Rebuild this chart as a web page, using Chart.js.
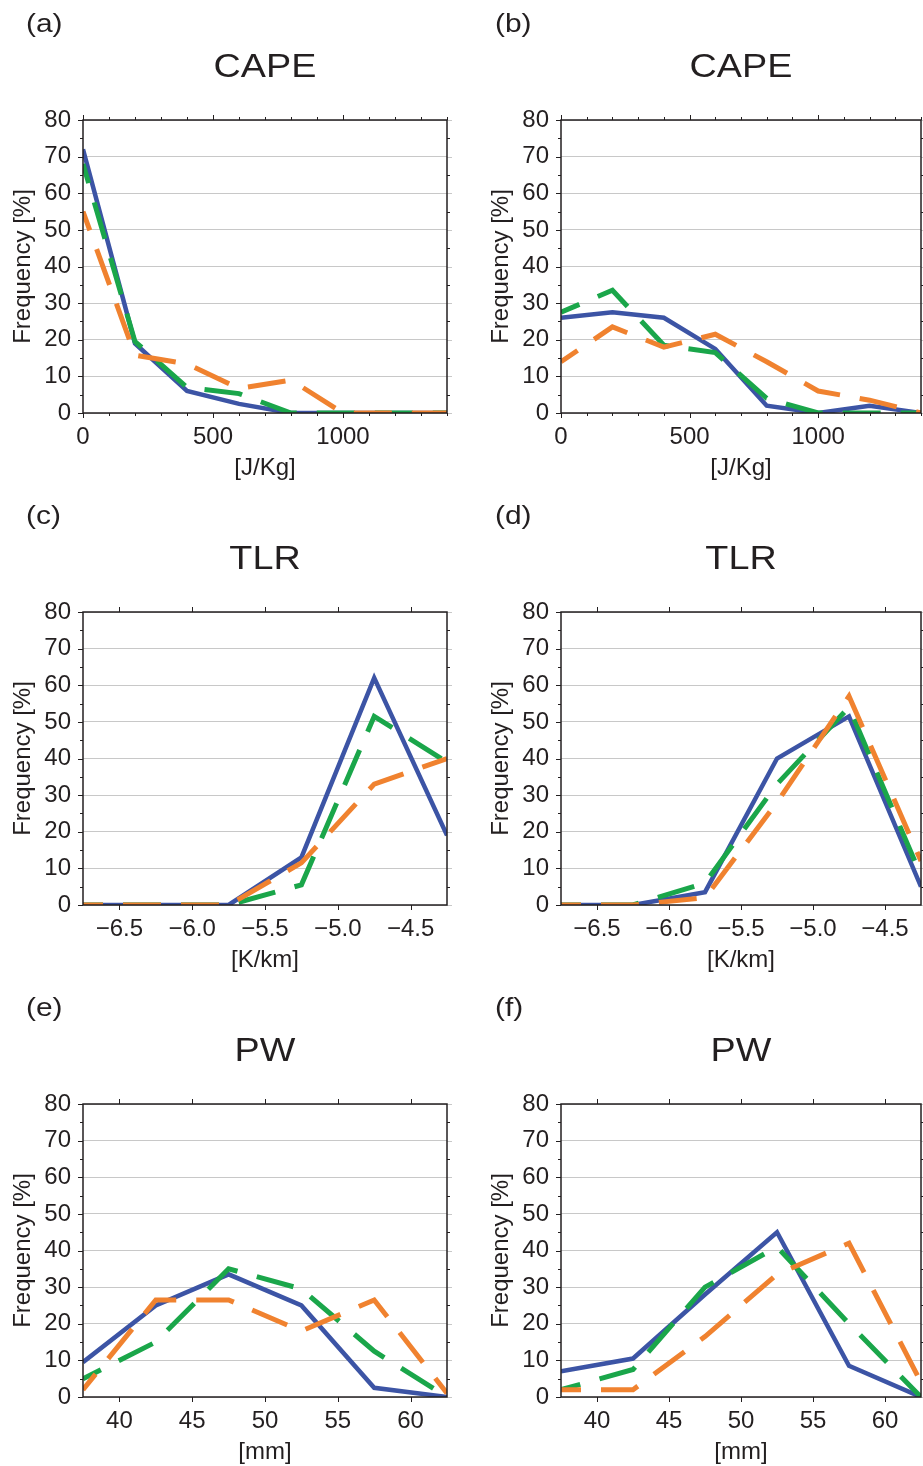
<!DOCTYPE html>
<html>
<head>
<meta charset="utf-8">
<script src="https://cdn.jsdelivr.net/npm/chart.js@4.4.0/dist/chart.umd.min.js"></script>
<style>
  body { margin: 0; width: 923px; height: 1466px; overflow: hidden; background: #fff;
         font-family: "Liberation Sans", Arial, sans-serif; color: #231f20; }
  .panel { position: absolute; height: 492px; }
  .panel canvas { position: absolute; left: 0; top: 0; }
  .lab { position: absolute; font-size: 26px; line-height: 26px; white-space: nowrap;
         transform: scaleX(1.15); transform-origin: left center; }
  .ttl { position: absolute; font-size: 34px; line-height: 34px; text-align: center; white-space: nowrap;
         transform: scaleX(1.11); }
</style>
</head>
<body>
<script>
// x positions of the bins
const capeX = [0, 200, 400, 600, 800, 1000, 1200, 1400];
const tlrX = [-6.75, -6.25, -5.75, -5.25, -4.75, -4.25];
const pwX = [37.5, 42.5, 47.5, 52.5, 57.5, 62.5];

// tick labels
const capeTicks = [0, 500, 1000];
const tlrTicks = [-6.5, -6.0, -5.5, -5.0, -4.5];
const pwTicks = [40, 45, 50, 55, 60];
const yTickVals = [0, 10, 20, 30, 40, 50, 60, 70, 80];

// (a) CAPE
const aBlue = [72, 19, 6, 2.5, 0, 0, 0, 0];
const aGreen = [68, 19.5, 7, 5.3, 0, 0, 0, 0];
const aOrange = [55, 15.8, 13.4, 6.7, 9, 0, 0, 0];
// (b) CAPE
const bBlue = [26, 27.5, 26, 17.5, 2, 0, 2, 0];
const bGreen = [27.5, 33.5, 18.5, 16.5, 4, 0, 0, 0];
const bOrange = [14, 23.5, 18, 21.5, 14, 6, 3.5, 0];
// (c) TLR
const cBlue = [0, 0, 0, 13, 62, 19];
const cGreen = [0, 0, 0, 5.5, 51.5, 39];
const cOrange = [0, 0, 0, 11.5, 33, 40];
// (d) TLR
const dBlue = [0, 0, 3.5, 40, 51.5, 5];
const dGreen = [0, 0, 6, 33, 54, 8];
const dOrange = [0, 0, 2, 28, 57, 12];
// (e) PW
const eBlue = [9.5, 25, 33.5, 25, 2.5, 0];
const eGreen = [5, 15, 35, 29.5, 12.5, 0];
const eOrange = [2, 26.5, 26.5, 18, 26.5, 1];
// (f) PW
const fBlue = [7, 10.5, 28, 45, 8.5, 0];
const fGreen = [2, 7.5, 30, 41, 20, 0];
const fOrange = [2, 2, 16.5, 33.5, 42, 4];

const yTitle = 'Frequency [%]';

const panels = [
  { tag: '(a)', title: 'CAPE', unit: '[J/Kg]', x: capeX, blue: aBlue, green: aGreen, orange: aOrange, row: 0, col: 0 },
  { tag: '(b)', title: 'CAPE', unit: '[J/Kg]', x: capeX, blue: bBlue, green: bGreen, orange: bOrange, row: 0, col: 1 },
  { tag: '(c)', title: 'TLR', unit: '[K/km]', x: tlrX, blue: cBlue, green: cGreen, orange: cOrange, row: 1, col: 0 },
  { tag: '(d)', title: 'TLR', unit: '[K/km]', x: tlrX, blue: dBlue, green: dGreen, orange: dOrange, row: 1, col: 1 },
  { tag: '(e)', title: 'PW', unit: '[mm]', x: pwX, blue: eBlue, green: eGreen, orange: eOrange, row: 2, col: 0 },
  { tag: '(f)', title: 'PW', unit: '[mm]', x: pwX, blue: fBlue, green: fGreen, orange: fOrange, row: 2, col: 1 }
];

// axis setup per variable
const axisFor = {
  CAPE: { min: 0, max: 1400, ticks: capeTicks, step: 500, minor: 100, fmt: v => String(v) },
  TLR: { min: -6.75, max: -4.25, ticks: tlrTicks, step: 0.5, minor: 0.5, fmt: v => v.toFixed(1).replace('-', '\u2212') },
  PW: { min: 37.5, max: 62.5, ticks: pwTicks, step: 5, minor: 5, fmt: v => String(v) }
};

const ink = '#231f20';
const tickFont = { family: '"Liberation Sans", Arial, sans-serif', size: 24, lineHeight: 1.2 };

// box, outer tick marks and grid stubs past the right edge
const frame = {
  id: 'frame',
  afterDraw(chart, args, opts) {
    const { ctx, chartArea: a, scales: { x, y } } = chart;
    ctx.save();
    ctx.lineWidth = 1;
    const n = Math.round((y.max - y.min) / 5);
    for (let i = 0; i <= n; i++) {
      const v = y.min + i * 5;
      const py = Math.round(y.getPixelForValue(v)) + 0.5;
      const major = v % 10 === 0;
      ctx.strokeStyle = ink;
      ctx.beginPath();
      ctx.moveTo(a.left - (major ? 5 : 3), py);
      ctx.lineTo(a.left, py);
      ctx.stroke();
      ctx.strokeStyle = major ? '#c8c8c8' : ink;
      ctx.beginPath();
      ctx.moveTo(a.right, py);
      ctx.lineTo(a.right + (major ? 5 : 3), py);
      ctx.stroke();
    }
    const start = Math.ceil(x.min / opts.minor - 1e-9) * opts.minor;
    const m = Math.floor((x.max - start) / opts.minor + 1e-9);
    ctx.strokeStyle = ink;
    for (let i = 0; i <= m; i++) {
      const v = start + i * opts.minor;
      const px = Math.round(x.getPixelForValue(v)) + 0.5;
      const major = Math.abs(v / opts.step - Math.round(v / opts.step)) < 1e-6;
      const len = major ? 5 : 3;
      ctx.beginPath();
      ctx.moveTo(px, a.top - len);
      ctx.lineTo(px, a.top);
      ctx.moveTo(px, a.bottom);
      ctx.lineTo(px, a.bottom + len);
      ctx.stroke();
    }
    ctx.lineWidth = 1.5;
    ctx.strokeStyle = ink;
    ctx.strokeRect(a.left, a.top, a.right - a.left, a.bottom - a.top);
    ctx.restore();
  }
};

function series(xs, ys) {
  return xs.map((v, i) => ({ x: v, y: ys[i] }));
}

panels.forEach(p => {
  const left = p.col === 0 ? 0 : 478;
  const width = p.col === 0 ? 461 : 445;
  const plotW = p.col === 0 ? 364 : 360;
  const top = p.row * 492;
  const ax = axisFor[p.title];

  const div = document.createElement('div');
  div.className = 'panel';
  div.style.left = left + 'px';
  div.style.top = top + 'px';
  div.style.width = width + 'px';
  document.body.appendChild(div);

  const canvas = document.createElement('canvas');
  canvas.width = width;
  canvas.height = 492;
  div.appendChild(canvas);

  const tag = document.createElement('div');
  tag.className = 'lab';
  tag.textContent = p.tag;
  tag.style.left = (p.col === 0 ? 26 : 17) + 'px';
  tag.style.top = '10px';
  div.appendChild(tag);

  const ttl = document.createElement('div');
  ttl.className = 'ttl';
  ttl.textContent = p.title;
  ttl.style.left = '83px';
  ttl.style.width = plotW + 'px';
  ttl.style.top = '48px';
  div.appendChild(ttl);

  new Chart(canvas, {
    type: 'line',
    data: {
      datasets: [
        { data: series(p.x, p.blue), borderColor: '#3c54a5', borderWidth: 4.5, order: 3 },
        { data: series(p.x, p.green), borderColor: '#1aa64a', borderWidth: 5, borderDash: [38, 20], borderDashOffset: 18, order: 2 },
        { data: series(p.x, p.orange), borderColor: '#f0822f', borderWidth: 5, borderDash: [38, 20], borderDashOffset: 18, order: 1 }
      ]
    },
    options: {
      responsive: false,
      animation: false,
      elements: { point: { radius: 0 }, line: { tension: 0, borderCapStyle: 'butt' } },
      layout: { padding: { top: 120, right: width - 83 - plotW, left: 0, bottom: 0 } },
      plugins: {
        legend: { display: false },
        tooltip: { enabled: false },
        frame: { step: ax.step, minor: ax.minor }
      },
      scales: {
        x: {
          type: 'linear',
          min: ax.min,
          max: ax.max,
          afterBuildTicks: s => { s.ticks = ax.ticks.map(v => ({ value: v })); },
          afterFit: s => { s.height = 79; s.paddingLeft = 0; s.paddingRight = 0; },
          grid: { display: false, drawTicks: false },
          border: { display: false },
          ticks: {
            autoSkip: false,
            maxRotation: 0,
            padding: 10,
            color: ink,
            font: tickFont,
            callback: v => ax.fmt(v)
          },
          title: { display: true, text: p.unit, color: ink, font: tickFont, padding: { top: 0, bottom: 9 } }
        },
        y: {
          min: 0,
          max: 80,
          afterBuildTicks: s => { s.ticks = yTickVals.map(v => ({ value: v })); },
          afterFit: s => { s.width = 83; },
          grid: { color: '#c8c8c8', lineWidth: 1, drawTicks: false },
          border: { display: false },
          ticks: { padding: 12, color: ink, font: tickFont },
          title: { display: true, text: yTitle, color: ink, font: tickFont, padding: { top: 9, bottom: 0 } }
        }
      }
    },
    plugins: [frame]
  });
});
</script>
</body>
</html>
